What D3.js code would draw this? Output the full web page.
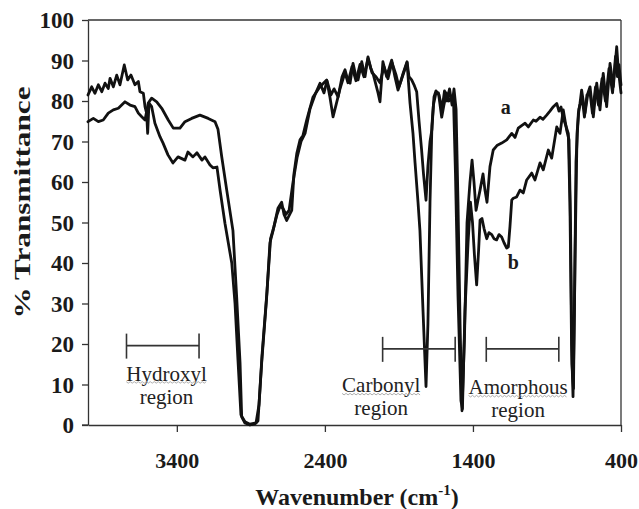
<!DOCTYPE html>
<html>
<head>
<meta charset="utf-8">
<script src="https://cdn.jsdelivr.net/npm/d3@7"></script>
<style>
  html, body { margin: 0; padding: 0; background: #fff; }
  svg { display: block; }
</style>
</head>
<body>
<svg id="chart" width="639" height="509"></svg>
<script>
// FTIR spectra of two samples: wavenumber (cm-1) and % transmittance
const wavenumberA = [4000,3964,3930,3897,3863,3829,3795,3750,3716,3683,3660,3637,3615,3593,3570,3536,3502,3458,3424,3379,3345,3300,3244,3188,3142,3122,3097,3063,3021,2996,2973,2962,2940,2906,2872,2852,2827,2793,2771,2750,2717,2692,2676,2658,2624,2609,2590,2568,2548,2523,2480,2433,2388,2366,2345,2325,2298,2264,2244,2217,2190,2163,2136,2109,2082,2055,2028,2001,1974,1947,1920,1900,1872,1845,1825,1805,1791,1771,1758,1737,1717,1704,1690,1677,1663,1650,1629,1609,1592,1575,1558,1541,1528,1514,1501,1487,1474,1457,1440,1420,1406,1393,1379,1366,1352,1332,1319,1305,1285,1263,1238,1206,1172,1138,1116,1094,1069,1048,1026,992,974,947,927,902,880,857,834,819,805,792,778,756,745,734,724,714,704,688,677,666,643,623,609,587,564,542,520,497,474,452,429,418,400];
const transmittanceA = [74.9,75.7,74.9,75.3,77,77.8,78.2,79.8,79,78.6,77,76.1,75.3,79.5,80.7,79.8,78.2,75.3,73.3,73.3,74.9,75.7,76.5,75.7,74.9,73,66.3,58,48,31.7,15.3,2,0.5,0,0.3,1,15.3,31.7,45,48,53.5,55,52,50.5,53,62,67,70.4,71.5,75.3,81,83.5,85.2,81,76.1,79,83,87,84.5,88.5,85,89,86,90.5,87,86,84.5,88.5,85.5,89.5,86.5,83.5,86.5,89.5,79.5,72,64.7,55,48,28,9.5,25,55,74,81,82.5,81.5,78,82.5,80,83,79,83,78,55,25,3.5,22,50,60,65.4,60,53,55.5,58,62,58,55,63.8,67.9,69,69.6,70.4,72,71,73.3,74,74.5,73.6,75.3,75,76,75.5,76.5,77.5,78.6,79.4,77.5,78.5,76,74.5,72,55,20,7,30,65,77,79.4,82.7,77,82,83.5,76.1,84.4,77.8,86.8,78.6,89.3,83.5,93.4,87.7,82];

const wavenumberB = [4000,3975,3953,3930,3907,3885,3863,3851,3829,3806,3784,3755,3732,3710,3683,3660,3649,3626,3615,3604,3597,3588,3570,3548,3514,3493,3460,3426,3392,3345,3325,3291,3264,3230,3210,3176,3156,3129,3108,3075,3029,3007,2987,2967,2940,2906,2865,2845,2825,2791,2767,2744,2723,2703,2683,2663,2642,2615,2588,2561,2534,2501,2467,2433,2406,2386,2359,2338,2311,2284,2264,2244,2230,2210,2190,2176,2151,2129,2109,2089,2075,2055,2041,2028,2008,1983,1967,1949,1927,1906,1886,1872,1845,1832,1814,1798,1780,1764,1747,1734,1717,1704,1690,1677,1667,1650,1633,1611,1596,1579,1562,1544,1531,1518,1501,1481,1471,1454,1433,1417,1403,1390,1375,1362,1352,1339,1325,1307,1292,1273,1258,1240,1224,1206,1190,1172,1161,1150,1138,1127,1105,1082,1060,1037,1003,981,947,925,891,868,834,812,790,767,751,741,731,721,711,697,684,663,647,630,609,593,572,552,528,505,481,457,437,424,414,400];
const transmittanceB = [81.5,83.5,81.9,84,82.3,84.4,83.1,85.6,83.5,86.4,84,88.9,85.2,86.4,84,84.8,82.3,81.9,78.6,77,72,79.5,78.6,74.5,71.2,69.6,66.7,64.7,66.2,65.4,67.4,66.2,67.2,65.4,66.2,64.2,63.5,63.7,58,49.8,40,30,16,2.5,0.8,0.2,0.5,5,17,33,46,49,52,54,53.5,52,53,60,66,70,72,78,81.5,84.4,82,85,81.5,83,81,86,87.7,85,84.4,89.3,86,85.2,89.7,86,90.9,88,86.8,84,82,79.8,89.7,86,88,90.1,86,82.7,85,86.8,89.7,86,85.2,84,82.3,75,68,62,55.5,64,70,73,79,82,82,76,79,82,80,81,80,62,32,6,4,28,45,55,50,42,34.6,43,50.6,51,48.5,46,47.5,47,46,45.7,47,46.4,45,43.7,44,49,55.5,56,56.3,58,57.3,60.5,62.2,60.5,64.7,63,67.9,65.9,73.6,72,77.8,72.8,70.4,50,15,9,40,72,78,81,76,81.5,82,77,83.5,79,85.5,80,88,82,91,86,89,84];

// Axis ticks
const yTickValues = [0,10,20,30,40,50,60,70,80,90,100];
const xTickValues = [3400,2400,1400,400];

// Spectral region brackets: [start, end] in cm-1, bracket level in %T
const regionNames = [["Hydroxyl","region"],["Carbonyl","region"],["Amorphous","region"]];
const regionStart = [3740, 2010, 1310];
const regionEnd   = [3250, 1520, 820];
const regionLevel = [19.6, 18.8, 18.8];
const regionLabelWn = [3470, 2020, 1095];
const regionLabelT  = [12.8, 9.9, 9.4];

// Curve labels
const seriesLabels = ["a","b"];
const seriesLabelWn = [1178, 1128];
const seriesLabelT  = [78.6, 40.3];

const svg = d3.select("#chart");
const serif = '"Liberation Serif", "Times New Roman", serif';
const axisColor = "#333";
const inkColor = "#1a1a1a";

const x = d3.scaleLinear().domain([4000, 400]).range([88, 621]);
const y = d3.scaleLinear().domain([0, 100]).range([425, 20]);

// Frame: top and right edges
svg.append("line").attr("x1", x(4000)).attr("x2", x(400)).attr("y1", y(100)).attr("y2", y(100))
  .attr("stroke", axisColor).attr("stroke-width", 1.3);
svg.append("line").attr("x1", x(400)).attr("x2", x(400)).attr("y1", y(100)).attr("y2", y(0))
  .attr("stroke", axisColor).attr("stroke-width", 1.3);

// Left axis
const yAxis = svg.append("g").attr("transform", `translate(${x(4000)},0)`)
  .call(d3.axisLeft(y).tickValues(yTickValues).tickSize(6).tickSizeOuter(0).tickPadding(8));
yAxis.selectAll("text").attr("font-size", 23).attr("dy", "0.33em");

// Bottom axis
const xAxis = svg.append("g").attr("transform", `translate(0,${y(0)})`)
  .call(d3.axisBottom(x).tickValues(xTickValues).tickFormat(d3.format("d")).tickSize(7).tickSizeOuter(0).tickPadding(20));
xAxis.selectAll("text").attr("font-size", 22);

[yAxis, xAxis].forEach(g => {
  g.attr("font-family", serif).attr("font-weight", "bold");
  g.selectAll("text").attr("font-family", serif).attr("font-weight", "bold").attr("fill", inkColor);
  g.select(".domain").attr("stroke", axisColor).attr("stroke-width", 1.3);
  g.selectAll(".tick line").attr("stroke", axisColor).attr("stroke-width", 1.3);
});
// extend bottom baseline to meet the outer y ticks
svg.append("line").attr("x1", x(4000) - 6).attr("x2", x(4000)).attr("y1", y(0)).attr("y2", y(0))
  .attr("stroke", axisColor).attr("stroke-width", 1.3);

// Axis titles
const xt = svg.append("text").attr("x", 357).attr("y", 505)
  .attr("text-anchor", "middle").attr("font-family", serif).attr("font-weight", "bold")
  .attr("font-size", 24).attr("fill", inkColor);
xt.append("tspan").text("Wavenumber (cm");
xt.append("tspan").attr("font-size", 15).attr("dy", -10).text("-1");
xt.append("tspan").attr("dy", 10).text(")");

svg.append("text")
  .attr("transform", `translate(30,${(y(0) + y(100)) / 2 - 20}) rotate(-90)`)
  .attr("text-anchor", "middle").attr("font-family", serif).attr("font-weight", "bold")
  .attr("font-size", 24).attr("fill", inkColor)
  .attr("textLength", 232).attr("lengthAdjust", "spacingAndGlyphs")
  .text("% Transmittance");

// Spectra
const line = d3.line().x(d => x(d[0])).y(d => y(d[1]));
const seriesA = wavenumberA.map((w, i) => [w, transmittanceA[i]]);
const seriesB = wavenumberB.map((w, i) => [w, transmittanceB[i]]);
[seriesA, seriesB].forEach(s => {
  svg.append("path").datum(s).attr("d", line)
    .attr("fill", "none").attr("stroke", "#111").attr("stroke-width", 2.8)
    .attr("stroke-linejoin", "round").attr("stroke-linecap", "round");
});

// Region brackets with labels
regionNames.forEach((names, i) => {
  const g = svg.append("g");
  const x0 = x(regionStart[i]), x1 = x(regionEnd[i]), yl = y(regionLevel[i]);
  g.append("line").attr("x1", x0).attr("x2", x1).attr("y1", yl).attr("y2", yl);
  g.append("line").attr("x1", x0).attr("x2", x0).attr("y1", yl - 12).attr("y2", yl + 13);
  g.append("line").attr("x1", x1).attr("x2", x1).attr("y1", yl - 12).attr("y2", yl + 13);
  g.selectAll("line").attr("stroke", axisColor).attr("stroke-width", 1.6);

  const cx = x(regionLabelWn[i]), cy = y(regionLabelT[i]);
  const t1 = g.append("text").attr("x", cx).attr("y", cy).attr("dy", "0.35em")
    .attr("text-anchor", "middle").attr("font-family", serif).attr("font-size", 21)
    .attr("fill", "#222").text(names[0]);
  g.append("text").attr("x", cx).attr("y", cy + 23).attr("dy", "0.35em")
    .attr("text-anchor", "middle").attr("font-family", serif).attr("font-size", 21)
    .attr("fill", "#222").text(names[1]);
  // dotted squiggle under the first word
  const w = t1.node().getComputedTextLength();
  const pts = d3.range(0, Math.floor(w / 2) + 1).map(k => [cx - w / 2 + k * 2, cy + 9 + (k % 2 ? 1 : -0.5)]);
  g.append("path").attr("d", d3.line()(pts)).attr("fill", "none")
    .attr("stroke", "#999").attr("stroke-width", 0.8);
});

// Curve labels
seriesLabels.forEach((s, i) => {
  svg.append("text").attr("x", x(seriesLabelWn[i])).attr("y", y(seriesLabelT[i])).attr("dy", "0.35em")
    .attr("text-anchor", "middle").attr("font-family", serif).attr("font-weight", "bold")
    .attr("font-size", 20).attr("fill", inkColor).text(s);
});
</script>
</body>
</html>
